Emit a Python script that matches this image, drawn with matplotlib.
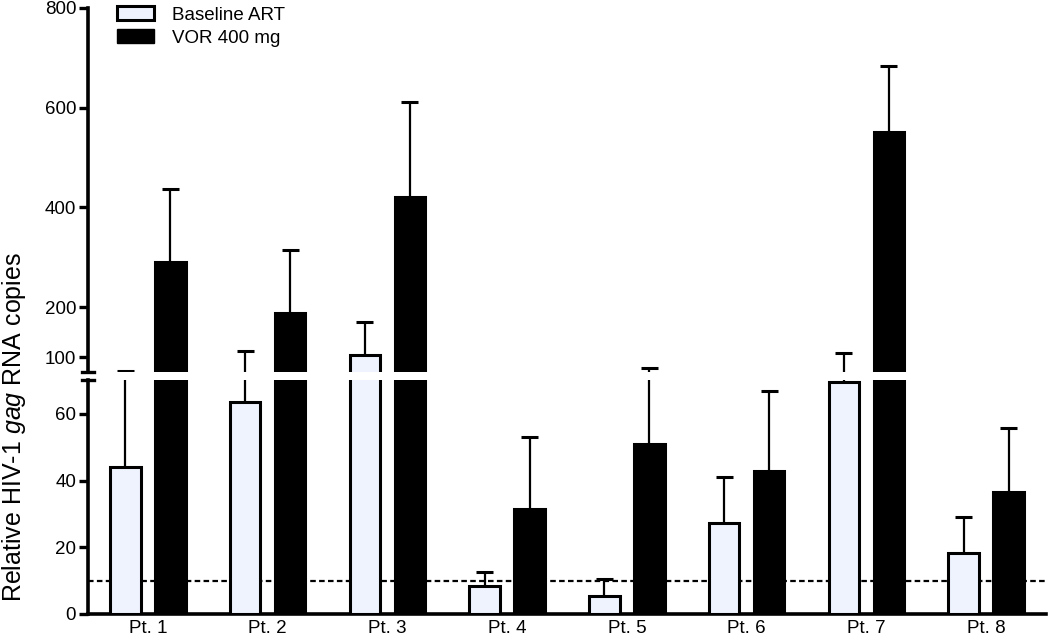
import matplotlib
matplotlib.use("Agg")
import matplotlib.pyplot as plt
from matplotlib.patches import Patch
import numpy as np

plt.rcParams['font.family'] = ['Liberation Sans', 'DejaVu Sans']
plt.rcParams['mathtext.fontset'] = 'custom'
plt.rcParams['mathtext.rm'] = 'Liberation Sans'
plt.rcParams['mathtext.it'] = 'Liberation Sans:italic'

# data (mean and upper error)
patients = ["Pt. 1", "Pt. 2", "Pt. 3", "Pt. 4", "Pt. 5", "Pt. 6", "Pt. 7", "Pt. 8"]
baseline = [44.1, 63.7, 105.0, 8.4, 5.5, 27.4, 69.6, 18.4]
baseline_err = [27.9, 48.9, 65.8, 4.1, 5.0, 13.8, 37.8, 10.8]
vor = [291.0, 187.6, 421.5, 31.5, 51.0, 42.9, 552.0, 36.7]
vor_err = [147.0, 127.0, 190.5, 21.7, 26.3, 24.0, 132.0, 19.0]
threshold = 10

W, H = 1050, 636
fig = plt.figure(figsize=(W / 100, H / 100), dpi=100)
left, right = 88 / W, 1046 / W
ax_up = fig.add_axes([left, 1 - 372 / H, right - left, 364 / H])
ax_lo = fig.add_axes([left, 1 - 614 / H, right - left, 234 / H])

x = np.arange(len(patients))
off, bw = 0.1875, 0.255
cap = 0.071
light = '#EEF3FD'
brk_up, brk_lo = 70, 70.2

for ax, lo in ((ax_up, brk_up), (ax_lo, 0)):
    b = np.where(np.array(baseline) > lo, baseline, 0)
    v = np.where(np.array(vor) > lo, vor, 0)
    ax.bar(x - off, b, bw, color=light, edgecolor='black', linewidth=2.2, zorder=3)
    ax.bar(x + off, v, bw, color='black', edgecolor='black', linewidth=2.2, zorder=3)
    for xs, m, e in ((x - off, baseline, baseline_err), (x + off, vor, vor_err)):
        top = np.array(m) + np.array(e)
        ax.vlines(xs, m, top, color='black', linewidth=1.6, zorder=2)
        ax.hlines(top, xs - cap, xs + cap, color='black', linewidth=2.2, zorder=2)
    ax.set_xlim(-0.5, 7.5)
    for s in ('top', 'right'):
        ax.spines[s].set_visible(False)
    ax.spines['left'].set_linewidth(2.6)
    ax.spines['bottom'].set_linewidth(2.6)
    ax.tick_params(axis='y', length=6.5, width=2.4, labelsize=13.5, pad=2)

ax_up.set_ylim(brk_up, 800)
ax_up.set_yticks([100, 200, 400, 600, 800])
ax_up.spines['bottom'].set_visible(False)
ax_up.set_xticks([])

ax_lo.set_ylim(0, brk_lo)
ax_lo.set_yticks([0, 20, 40, 60])
ax_lo.set_xticks(x)
ax_lo.set_xticklabels(patients)
ax_lo.tick_params(axis='x', length=0, labelsize=13.5, pad=4)
ax_lo.axhline(threshold, color='black', linewidth=1.6, ls=(0, (2.5, 1.5)), zorder=1)

# break marks on the y axis
d = 0.0058
ax_up.plot([-d, d], [0, 0], transform=ax_up.transAxes, color='black', lw=2.4, clip_on=False)
ax_lo.plot([-d, d], [1, 1], transform=ax_lo.transAxes, color='black', lw=2.4, clip_on=False)

fig.text(0.0, 1 - 427 / H, r'Relative HIV-1 $\mathit{gag}$ RNA copies', rotation=90,
         ha='left', va='center', fontsize=18)

handles = [Patch(facecolor=light, edgecolor='black', linewidth=2.2),
           Patch(facecolor='black', edgecolor='black')]
fig.legend(handles, ['Baseline ART', 'VOR 400 mg'], loc='upper left',
           bbox_to_anchor=(117 / W, 1 - 6 / H), frameon=False, fontsize=13.5,
           handlelength=1.97, handleheight=0.8, handletextpad=0.96, labelspacing=0.28,
           borderpad=0, borderaxespad=0)

fig.savefig('out.png', dpi=100)
